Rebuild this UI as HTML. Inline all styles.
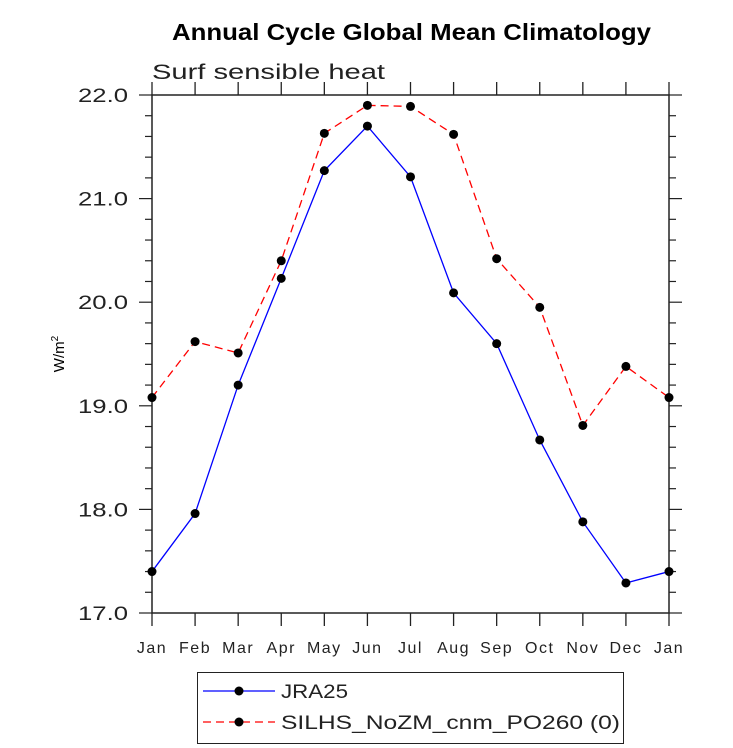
<!DOCTYPE html>
<html><head><meta charset="utf-8"><style>
body{margin:0;background:#fff}
svg{display:block;font-family:"Liberation Sans",sans-serif}
</style></head><body>
<svg id="chart" width="733" height="748">
<text x="172" y="40" font-size="23" font-weight="bold" textLength="479" lengthAdjust="spacingAndGlyphs">Annual Cycle Global Mean Climatology</text>
<text x="152" y="79" font-size="21" fill="#222" textLength="233" lengthAdjust="spacingAndGlyphs">Surf sensible heat</text>
<text transform="translate(64,354) rotate(-90)" text-anchor="middle" font-size="15">W/m<tspan font-size="10" dy="-6">2</tspan></text>
<g id="axes"></g>
<g id="series"></g>
<g>
<rect x="197.5" y="672.5" width="426" height="71" fill="none" stroke="#222" stroke-width="1"/>
<line x1="203" y1="691" x2="275" y2="691" stroke="#0000ff" stroke-width="1.3"/>
<circle cx="239" cy="691" r="4.5" fill="#000"/>
<text x="281" y="698" font-size="19" fill="#222" textLength="67" lengthAdjust="spacingAndGlyphs">JRA25</text>
<line x1="203" y1="722" x2="275" y2="722" stroke="#ff0000" stroke-width="1.3" stroke-dasharray="8,5"/>
<circle cx="239" cy="722" r="4.5" fill="#000"/>
<text x="281" y="729" font-size="19" fill="#222" textLength="339" lengthAdjust="spacingAndGlyphs">SILHS_NoZM_cnm_PO260 (0)</text>
</g>
</svg>
<script>
const months=["Jan","Feb","Mar","Apr","May","Jun","Jul","Aug","Sep","Oct","Nov","Dec","Jan"];
const jra25=[17.40,17.96,19.20,20.23,21.27,21.70,21.21,20.09,19.60,18.67,17.88,17.29,17.40];
const silhs=[19.08,19.62,19.51,20.40,21.63,21.90,21.89,21.62,20.42,19.95,18.81,19.38,19.08];
const yTicks=["17.0","18.0","19.0","20.0","21.0","22.0"];
const yMin=17,yMax=22,L=152,R=669,T=95,B=613;
const xs=i=>L+(R-L)*i/(months.length-1);
const ys=v=>B-(v-yMin)/(yMax-yMin)*(B-T);
const NS="http://www.w3.org/2000/svg";
function mk(tag,attrs,parent){const e=document.createElementNS(NS,tag);for(const k in attrs)e.setAttribute(k,attrs[k]);parent.appendChild(e);return e;}
const ax=document.getElementById('axes');
const fr=mk('rect',{x:L,y:T,width:R-L,height:B-T,fill:'none',stroke:'#222','stroke-width':1.5},ax);


months.forEach((m,i)=>{
 const x=xs(i);
 mk('line',{x1:x,y1:B,x2:x,y2:B+13,stroke:'#222','stroke-width':1.3},ax);
 mk('line',{x1:x,y1:T,x2:x,y2:T-13,stroke:'#222','stroke-width':1.3},ax);
 const t=mk('text',{x:x,y:B+40,'text-anchor':'middle','font-size':16,fill:'#222','letter-spacing':1.5},ax);
 t.textContent=m;
 
 
});
for(let v=yMin;v<=yMax+1e-9;v+=0.2){
 const y=ys(v);const major=Math.abs(v-Math.round(v))<1e-6;const len=major?13:7;
 mk('line',{x1:L,y1:y,x2:L-len,y2:y,stroke:'#222','stroke-width':1.2},ax);
 mk('line',{x1:R,y1:y,x2:R+len,y2:y,stroke:'#222','stroke-width':1.2},ax);
}
yTicks.forEach(s=>{
 const t=mk('text',{x:78,y:ys(parseFloat(s))+7,'font-size':19,fill:'#222',textLength:50,lengthAdjust:'spacingAndGlyphs'},ax);
 t.textContent=s;
 
 
});
const sg=document.getElementById('series');
function draw(data,color,dash,name){
 const p=mk('polyline',{points:data.map((v,i)=>xs(i)+','+ys(v)).join(' '),fill:'none',stroke:color,'stroke-width':1.3,'stroke-dasharray':dash},sg);
 
 
 data.forEach((v,i)=>{
  const c=mk('circle',{cx:xs(i),cy:ys(v),r:4.5,fill:'#000'},sg);
  
  
 });
}
draw(silhs,'#ff0000','8,5','silhs');
draw(jra25,'#0000ff','none','jra25');
</script>
</body></html>
